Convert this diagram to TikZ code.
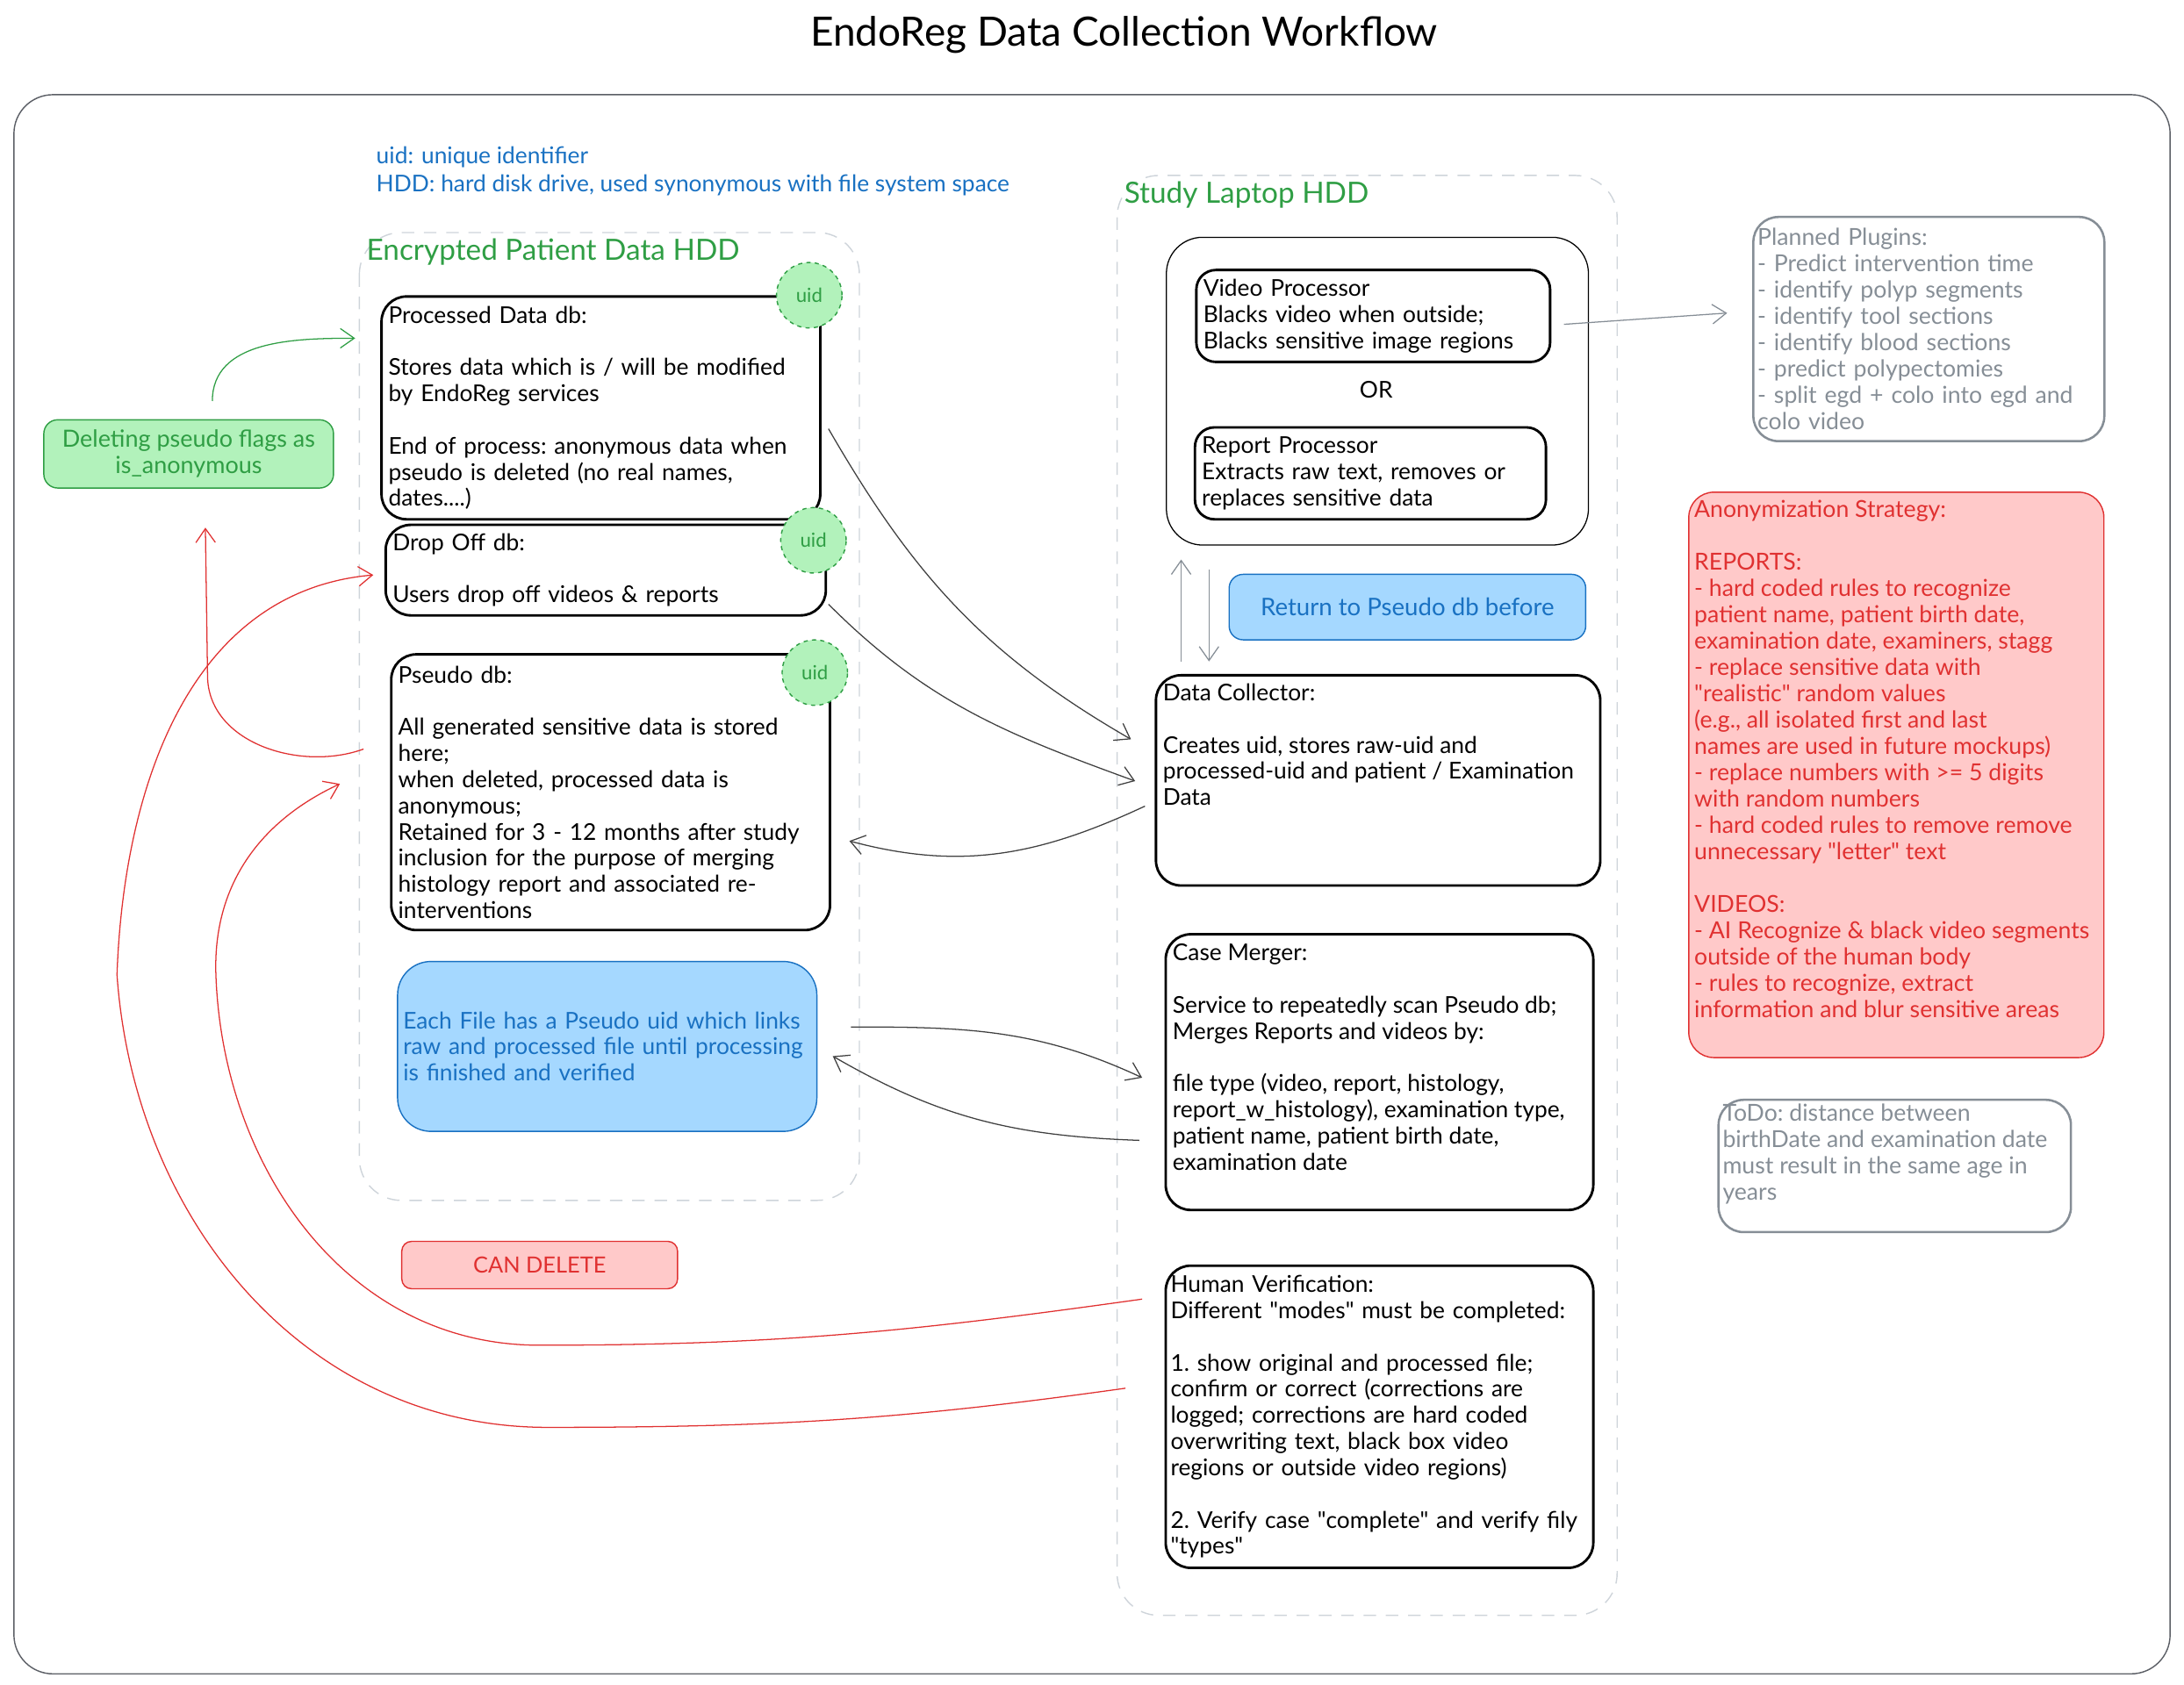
\documentclass[tikz,border=0pt]{standalone}
\usepackage{fontspec}
\setmainfont{Lato}
\usetikzlibrary{arrows.meta}

\definecolor{xgreen}{HTML}{2F9E44}
\definecolor{xgreenfill}{HTML}{B2F2BB}
\definecolor{xblue}{HTML}{1971C2}
\definecolor{xbluefill}{HTML}{A5D8FF}
\definecolor{xred}{HTML}{E03131}
\definecolor{xredfill}{HTML}{FFC9C9}
\definecolor{xgrey}{HTML}{868E96}
\definecolor{xdash}{HTML}{CED4DA}
\definecolor{xframe}{HTML}{5C5F66}

\newcommand{\bodyfont}{\fontsize{16.6}{18.8}\selectfont\frenchspacing}
\newcommand{\notefont}{\fontsize{16.8}{18.9}\selectfont\frenchspacing}
\newcommand{\qq}[1]{\textquotedbl#1\textquotedbl}
\newcommand{\toptext}[3]{\parbox[c][#2pt][t]{#1pt}{\raggedright #3}}

\begin{document}
\begin{tikzpicture}[x=1pt, y=1pt,
    every node/.style={font=\bodyfont, inner sep=0pt},
    dbbox/.style={draw=black, line width=1.8pt, rounded corners=18pt, anchor=north west, inner xsep=5pt, inner ysep=4pt},
    notebox/.style={draw=xblue, fill=xbluefill, line width=0.9pt, rounded corners=24pt, anchor=north west, text=xblue, inner xsep=4pt},
    greenbox/.style={draw=xgreen, fill=xgreenfill, line width=0.9pt, rounded corners=10pt, anchor=north west, text=xgreen},
    greybox/.style={draw=xgrey, line width=1.6pt, rounded corners=18pt, anchor=north west, text=xgrey, inner xsep=3pt, font=\notefont},
    redbox/.style={draw=xred, fill=xredfill, line width=0.9pt, rounded corners=18pt, anchor=north west, text=xred, inner xsep=4pt},
    uid/.style={circle, draw=xgreen, dashed, fill=xgreenfill, line width=0.9pt, minimum size=47pt, text=xgreen, font=\fontsize{14}{16}\selectfont},
    group/.style={draw=xdash, line width=0.9pt, dash pattern=on 9pt off 7pt, rounded corners=30pt},
    grouplabel/.style={anchor=west, text=xgreen, font=\fontsize{21}{24}\selectfont},
    flow/.style={-{Straight Barb[length=10pt,width=14pt]}, draw=black!75, line width=0.8pt},
    back/.style={flow, draw=xred},
    side/.style={flow, draw=xgrey},
]
\useasboundingbox (0,0) rectangle (1568,-1210);

% frame and the two disks
\draw[draw=xframe, line width=0.9pt, rounded corners=28pt] (10,-68) rectangle (1558,-1202);
\draw[group] (258,-167) rectangle (617,-862);
\draw[group] (802,-126) rectangle (1161,-1160);

\node[font=\fontsize{29}{33}\selectfont] (title) at (807,-25) {EndoReg Data Collection Workflow};
\node[anchor=north west, align=left, text=xblue, font=\fontsize{16.6}{20}\selectfont] (legend) at (270,-105)
    {uid: unique identifier\\HDD: hard disk drive, used synonymous with file system space};
\node[grouplabel] (enclabel) at (263,-181) {Encrypted Patient Data HDD};
\node[grouplabel] (studylabel) at (807,-140) {Study Laptop HDD};

% encrypted patient data
\node[dbbox, align=left, text width=305pt, minimum height=160pt] (proc) at (273,-212)
    {Processed Data db:\\[18.8pt]Stores data which is / will be modified\\by EndoReg services\\[18.8pt]End of process: anonymous data when\\pseudo is deleted (no real names,\\dates....)};
\node[dbbox, align=left, text width=306pt, minimum height=65pt] (drop) at (276,-376)
    {Drop Off db:\\[18.8pt]Users drop off videos \& reports};
\node[dbbox, align=left, text width=305pt, minimum height=198pt] (pseudo) at (280,-469)
    {Pseudo db:\\[18.8pt]All generated sensitive data is stored\\here;\\when deleted, processed data is\\anonymous;\\Retained for 3 - 12 months after study\\inclusion for the purpose of merging\\histology report and associated re-\\interventions};
\node[notebox, align=left, text width=293pt, minimum height=122pt] (note) at (285,-690)
    {Each File has a Pseudo uid which links\\raw and processed file until processing\\is finished and verified};
\node[redbox, align=center, minimum width=198pt, minimum height=34pt, rounded corners=7pt, font=\fontsize{16}{18}\selectfont] (candel) at (288,-891) {CAN DELETE};
\node[greenbox, align=center, minimum width=208pt, minimum height=49pt, font=\fontsize{17}{19}\selectfont] (flag) at (31,-301)
    {Deleting pseudo flags as\\is\_anonymous};
\foreach \n/\x/\y in {1/581/212, 2/584/388, 3/585/483}
    \node[uid] (uid\n) at (\x,-\y) {uid};

% study laptop
\node[draw, line width=0.8pt, rounded corners=26pt, anchor=north west, minimum width=303pt, minimum height=221pt] (proccont) at (837,-170) {};
\node[dbbox, align=left, rounded corners=14pt, text width=244pt, minimum height=66pt] (vp) at (858,-193)
    {Video Processor\\Blacks video when outside;\\Blacks sensitive image regions};
\node (or) at (988,-280) {OR};
\node[dbbox, align=left, rounded corners=14pt, text width=242pt, minimum height=66pt] (rp) at (857,-306)
    {Report Processor\\Extracts raw text, removes or\\replaces sensitive data};
\node[notebox, align=center, minimum width=256pt, minimum height=47pt, rounded corners=10pt, font=\fontsize{17.4}{20}\selectfont] (ret) at (882,-412) {Return to Pseudo db before};
\node[dbbox, inner ysep=6pt] (dc) at (829,-484)
    {\toptext{309}{139}{Data Collector:\\[18.8pt]Creates uid, stores raw-uid and\\processed-uid and patient / Examination\\Data}};
\node[dbbox, inner ysep=7pt] (cm) at (836,-670)
    {\toptext{297}{184}{Case Merger:\\[18.8pt]Service to repeatedly scan Pseudo db;\\Merges Reports and videos by:\\[18.8pt]file type (video, report, histology,\\report\_w\_histology), examination type,\\patient name, patient birth date,\\examination date}};
\node[dbbox, align=left, inner xsep=3.5pt, text width=300pt, minimum height=217pt] (hv) at (836,-908)
    {Human Verification:\\Different \qq{modes} must be completed:\\[18.8pt]1. show original and processed file;\\confirm or correct (corrections are\\logged; corrections are hard coded\\overwriting text, black box video\\regions or outside video regions)\\[18.8pt]2. Verify case \qq{complete} and verify fily\\\qq{types}};

% side notes
\node[greybox, align=left, text width=246pt, minimum height=161pt] (plugins) at (1258,-155)
    {Planned Plugins:\\- Predict intervention time\\- identify polyp segments\\- identify tool sections\\- identify blood sections\\- predict polypectomies\\- split egd + colo into egd and\\colo video};
\node[redbox, inner ysep=6pt, font=\notefont] (anon) at (1212,-353)
    {\toptext{290}{394}{Anonymization Strategy:\\[18.9pt]REPORTS:\\- hard coded rules to recognize\\patient name, patient birth date,\\examination date, examiners, stagg\\- replace sensitive data with\\\qq{realistic} random values\\(e.g., all isolated first and last\\names are used in future mockups)\\- replace numbers with >= 5 digits\\with random numbers\\- hard coded rules to remove remove\\unnecessary \qq{letter} text\\[18.9pt]VIDEOS:\\- AI Recognize \& black video segments\\outside of the human body\\- rules to recognize, extract\\information and blur sensitive areas}};
\node[greybox, inner ysep=3pt] (todo) at (1233,-789)
    {\toptext{247}{89}{ToDo: distance between\\birthDate and examination date\\must result in the same age in\\years}};

% data flow
\draw[flow] ([shift={(5,-15)}]proc.east) to[out=-60, in=150] ([shift={(-17,29.5)}]dc.west);
\draw[flow] ([shift={(1,-24.5)}]drop.east) to[out=-45, in=160] ([shift={(-14,-0.5)}]dc.west);
\draw[flow] ([shift={(-7,-18.5)}]dc.west) to[out=205, in=-15] ([shift={(13,-35)}]pseudo.east);
\draw[flow] ([shift={(24,14)}]note.east) to[out=0, in=155] ([shift={(-16,-4)}]cm.west);
\draw[flow] ([shift={(-18,-49)}]cm.west) to[out=178, in=-30] ([shift={(11,-7)}]note.east);
\draw[side] ([shift={(9,-6)}]vp.east) -- ([shift={(-18,11.5)}]plugins.west);
\draw[side] ([shift={(19,9)}]dc.north west) -- ([shift={(11,-10)}]proccont.south west);
\draw[side] ([shift={(31,-17)}]proccont.south west) -- ([shift={(39,9)}]dc.north west);
\draw[flow, draw=xgreen] ([shift={(17,13)}]flag.north) to[out=90, in=180] ([shift={(-18,50)}]proc.west);

% deleting pseudo entries
\coordinate (gbend) at (149,-485);
\coordinate (p1) at (387,-966);
\coordinate (p2) at (155,-700);
\coordinate (d1) at (393,-1025);
\coordinate (d2) at (84,-700);
\draw[back] ([shift={(-19,31)}]pseudo.west) to[out=200, in=-90] (gbend) -- ([shift={(12,-28)}]flag.south);
\draw[back] ([shift={(-16,84.5)}]hv.west) to[out=188, in=0] (p1) to[out=180, in=-88] (p2) to[out=92, in=205] ([shift={(-36,6)}]pseudo.west);
\draw[back] ([shift={(-28,20.5)}]hv.west) to[out=188, in=0] (d1) to[out=180, in=-86] (d2) to[out=88, in=185] ([shift={(-8,-3.5)}]drop.west);
\end{tikzpicture}
\end{document}
